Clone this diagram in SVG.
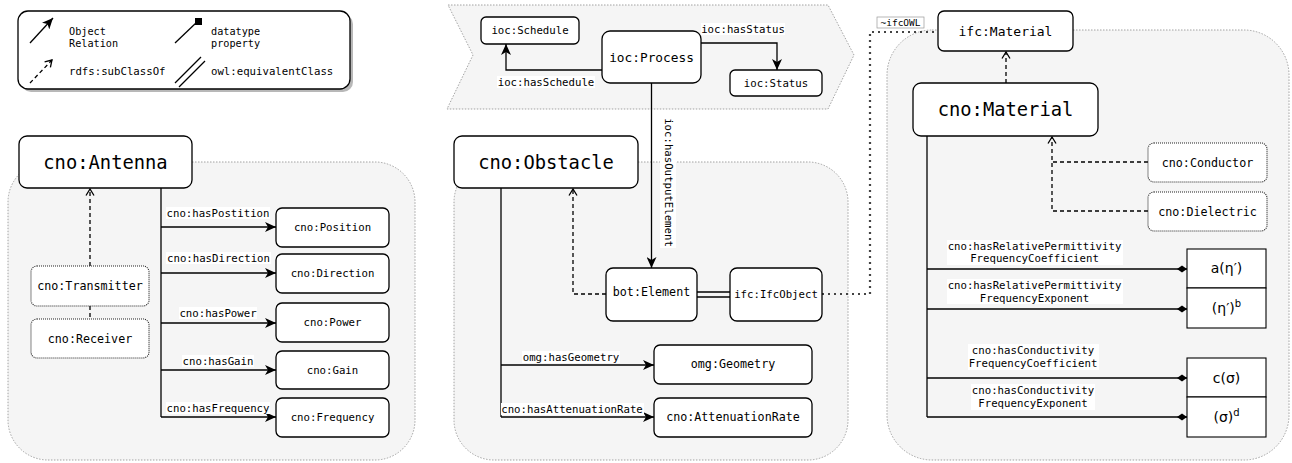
<svg xmlns="http://www.w3.org/2000/svg" width="1292" height="463" viewBox="0 0 1292 463">
<style>
text{font-family:"DejaVu Sans Mono","Liberation Mono",monospace;fill:#000}
.s{font-size:10.7px}
.m{font-size:11.7px}
.b{font-size:18.8px}
.leg{font-size:10.2px}
.c{text-anchor:middle;dominant-baseline:central}
.lbl{text-anchor:middle}
.node{fill:#fff;stroke:#000;stroke-width:1.3}
.dnode{fill:#fff;stroke:#222;stroke-width:1.1;stroke-dasharray:1 1}
.panel{fill:#f5f5f5;stroke:#999;stroke-width:0.9;stroke-dasharray:1.5 1.5}
.e{fill:none;stroke:#000;stroke-width:1.3}
.sub{fill:none;stroke:#000;stroke-width:1.3;stroke-dasharray:4 3}
.bg{fill:#fff}
.box{fill:#fff;stroke:#000;stroke-width:1.1}
.math{font-family:"DejaVu Sans","Liberation Sans",sans-serif;font-size:14px}
</style>
<defs>
<marker id="arr" markerUnits="userSpaceOnUse" markerWidth="11" markerHeight="10" refX="11" refY="5" orient="auto"><path d="M0,0 L11,5 L0,10 L3,5 z" fill="#000"/></marker>
<marker id="open" markerUnits="userSpaceOnUse" markerWidth="9" markerHeight="10" refX="7.5" refY="5" orient="auto"><path d="M1,1 L7.5,5 L1,9" fill="none" stroke="#000" stroke-width="1.3"/></marker>
<marker id="dia" markerUnits="userSpaceOnUse" markerWidth="10" markerHeight="8" refX="10" refY="4" orient="auto"><path d="M0,4 L5,0.5 L10,4 L5,7.5 z" fill="#000"/></marker>
</defs>

<g id="legend">
<rect x="21" y="14" width="332" height="78" rx="10" fill="#888" opacity="0.6"/>
<rect x="18" y="11" width="332" height="78" rx="10" fill="#fff" stroke="#000" stroke-width="1.3"/>
<line x1="30" y1="43" x2="53" y2="18" class="e" marker-end="url(#arr)"/>
<text class="leg" x="69" y="34.5">Object</text>
<text class="leg" x="69" y="46.5">Relation</text>
<line x1="175" y1="43" x2="197" y2="22" class="e"/>
<rect x="195" y="18" width="7" height="7" fill="#000"/>
<text class="leg" x="211" y="34.5">datatype</text>
<text class="leg" x="211" y="46.5">property</text>
<line x1="30" y1="83" x2="52" y2="60" class="sub" marker-end="url(#open)"/>
<text class="s" x="69" y="75">rdfs:subClassOf</text>
<line x1="175" y1="83" x2="201" y2="57" class="e"/>
<line x1="179" y1="87" x2="205" y2="61" class="e"/>
<text class="s" x="211" y="75">owl:equivalentClass</text>
</g>

<g id="panels">
<rect id="panel-antenna" class="panel" x="8" y="162" width="407" height="298" rx="40"/>
<rect id="panel-obstacle" class="panel" x="454" y="162" width="394" height="298" rx="40"/>
<rect id="panel-material" class="panel" x="887" y="30" width="402" height="430" rx="45"/>
<polygon id="panel-process" class="panel" points="448,5 828,5 854,55 828,109 447,109 473,55"/>
</g>

<g id="connectors">
<path class="sub" d="M90,266 V189" marker-end="url(#open)"/>
<path class="sub" d="M90,306 V319"/>
<path class="e" d="M161,188 V417"/>
<path class="e" d="M161,227 H276" marker-end="url(#arr)"/>
<path class="e" d="M161,273 H276" marker-end="url(#arr)"/>
<path class="e" d="M161,323 H276" marker-end="url(#arr)"/>
<path class="e" d="M161,370 H276" marker-end="url(#arr)"/>
<path class="e" d="M161,417 H276" marker-end="url(#arr)"/>
<path class="e" d="M602,70 H506 V44" marker-end="url(#arr)"/>
<path class="e" d="M701,43 H777 V70" marker-end="url(#arr)"/>
<path class="e" d="M651.5,83 V268" marker-end="url(#arr)"/>
<path class="sub" d="M606,294 H573 V189" marker-end="url(#open)"/>
<path class="e" d="M501,188 V417"/>
<path class="e" d="M501,365 H654" marker-end="url(#arr)"/>
<path class="e" d="M501,417 H654" marker-end="url(#arr)"/>
<line class="e" x1="697" y1="292" x2="730" y2="292"/>
<line class="e" x1="697" y1="297" x2="730" y2="297"/>
<path d="M822,294 H870 V32 H938" fill="none" stroke="#444" stroke-width="2.2" stroke-dasharray="2 4"/>
<path class="sub" d="M1006,83 V52" marker-end="url(#open)"/>
<path class="sub" d="M1148,162 H1052"/>
<path class="sub" d="M1148,211 H1052 V137" marker-end="url(#open)"/>
<path class="e" d="M927,136 V417"/>
<path class="e" d="M927,269 H1187" marker-end="url(#dia)"/>
<path class="e" d="M927,309 H1187" marker-end="url(#dia)"/>
<path class="e" d="M927,378 H1187" marker-end="url(#dia)"/>
<path class="e" d="M927,417 H1187" marker-end="url(#dia)"/>

<rect class="bg" x="166" y="207" width="104" height="12"/>
<text class="s lbl" x="218" y="217">cno:hasPostition</text>
<rect class="bg" x="166" y="252" width="105" height="12"/>
<text class="s lbl" x="218.5" y="262">cno:hasDirection</text>
<rect class="bg" x="179" y="307" width="78" height="12"/>
<text class="s lbl" x="218" y="317">cno:hasPower</text>
<rect class="bg" x="182" y="355" width="72" height="12"/>
<text class="s lbl" x="218" y="365">cno:hasGain</text>
<rect class="bg" x="166" y="402" width="104" height="12"/>
<text class="s lbl" x="218" y="412">cno:hasFrequency</text>

<rect class="bg" x="497" y="76" width="98" height="12"/>
<text class="s lbl" x="546" y="86">ioc:hasSchedule</text>
<rect class="bg" x="701" y="23" width="84" height="12"/>
<text class="s lbl" x="743" y="33">ioc:hasStatus</text>
<rect class="bg" x="660" y="117" width="16" height="131"/>
<text class="s" x="668" y="182.5" text-anchor="middle" dominant-baseline="central" transform="rotate(90 668 182.5)">ioc:hasOutputElement</text>

<rect class="bg" x="522" y="351" width="98" height="12"/>
<text class="s lbl" x="571" y="361">omg:hasGeometry</text>
<rect class="bg" x="501" y="403" width="143" height="12"/>
<text class="s lbl" x="572" y="413">cno:hasAttenuationRate</text>

<rect x="877" y="17" width="47" height="11" fill="#fff" stroke="#999" stroke-width="0.7"/>
<text x="900.5" y="26" text-anchor="middle" style="font-size:9.5px">~ifcOWL</text>

<rect class="bg" x="947" y="240" width="176" height="25"/>
<text class="s lbl" x="1034.5" y="250">cno:hasRelativePermittivity</text>
<text class="s lbl" x="1034.5" y="262">FrequencyCoefficient</text>
<rect class="bg" x="947" y="279" width="176" height="25"/>
<text class="s lbl" x="1034.5" y="289">cno:hasRelativePermittivity</text>
<text class="s lbl" x="1034.5" y="302">FrequencyExponent</text>
<rect class="bg" x="968" y="344" width="131" height="26"/>
<text class="s lbl" x="1033" y="354">cno:hasConductivity</text>
<text class="s lbl" x="1033" y="367">FrequencyCoefficient</text>
<rect class="bg" x="971" y="384" width="124" height="26"/>
<text class="s lbl" x="1033" y="394">cno:hasConductivity</text>
<text class="s lbl" x="1033" y="407">FrequencyExponent</text>
</g>

<g id="antenna"><rect class="node" x="19" y="136" width="173" height="52" rx="8"/><text class="b c" x="105.5" y="162">cno:Antenna</text></g>
<g id="transmitter"><rect class="dnode" x="31" y="266" width="118" height="40" rx="6"/><text class="m c" x="90" y="286">cno:Transmitter</text></g>
<g id="receiver"><rect class="dnode" x="31" y="319" width="118" height="39" rx="6"/><text class="m c" x="90" y="338.5">cno:Receiver</text></g>
<g id="position"><rect class="node" x="276" y="208" width="113" height="39" rx="6"/><text class="s c" x="332.5" y="227.5">cno:Position</text></g>
<g id="direction"><rect class="node" x="276" y="254" width="113" height="39" rx="6"/><text class="s c" x="332.5" y="273.5">cno:Direction</text></g>
<g id="power"><rect class="node" x="276" y="303" width="113" height="39" rx="6"/><text class="s c" x="332.5" y="322.5">cno:Power</text></g>
<g id="gain"><rect class="node" x="276" y="351" width="113" height="38" rx="6"/><text class="s c" x="332.5" y="370">cno:Gain</text></g>
<g id="frequency"><rect class="node" x="276" y="398" width="113" height="39" rx="6"/><text class="s c" x="332.5" y="417.5">cno:Frequency</text></g>

<g id="schedule"><rect class="node" x="481" y="17" width="98" height="27" rx="5"/><text class="s c" x="530" y="30.5">ioc:Schedule</text></g>
<g id="process"><rect class="node" x="602" y="31" width="99" height="52" rx="8"/><text class="c" style="font-size:12.8px" x="651.5" y="57">ioc:Process</text></g>
<g id="status"><rect class="node" x="730" y="70" width="92" height="26" rx="5"/><text class="s c" x="776" y="83">ioc:Status</text></g>

<g id="obstacle"><rect class="node" x="454" y="136" width="184" height="52" rx="8"/><text class="b c" x="546" y="162">cno:Obstacle</text></g>
<g id="element"><rect class="node" x="606" y="268" width="91" height="53" rx="7"/><text class="m c" x="651.5" y="292">bot:Element</text></g>
<g id="ifcobject"><rect class="node" x="730" y="268" width="92" height="53" rx="7"/><text class="s c" x="776" y="294">ifc:IfcObject</text></g>
<g id="geometry"><rect class="node" x="654" y="345" width="158" height="39" rx="6"/><text class="m c" x="733" y="364">omg:Geometry</text></g>
<g id="attenuation"><rect class="node" x="654" y="398" width="158" height="39" rx="6"/><text class="m c" x="733" y="417">cno:AttenuationRate</text></g>

<g id="ifcmaterial"><rect class="node" x="938" y="11" width="135" height="40" rx="6"/><text class="c" style="font-size:13px" x="1005.5" y="31">ifc:Material</text></g>
<g id="cnomaterial"><rect class="node" x="913" y="83" width="185" height="53" rx="8"/><text class="b c" x="1005.5" y="109.5">cno:Material</text></g>
<g id="conductor"><rect class="dnode" x="1148" y="143" width="119" height="39" rx="6"/><text class="m c" x="1207.5" y="162.5">cno:Conductor</text></g>
<g id="dielectric"><rect class="dnode" x="1148" y="192" width="119" height="39" rx="6"/><text class="m c" x="1207.5" y="211.5">cno:Dielectric</text></g>

<g id="coefA"><rect class="box" x="1187" y="249" width="79" height="39"/><text class="math c" x="1226.5" y="268">a(η′)</text></g>
<g id="expB"><rect class="box" x="1187" y="288" width="79" height="40"/><text class="math c" x="1226.5" y="308">(η′)<tspan dy="-5" style="font-size:10px">b</tspan></text></g>
<g id="coefC"><rect class="box" x="1187" y="358" width="79" height="39"/><text class="math c" x="1226.5" y="377.5">c(σ)</text></g>
<g id="expD"><rect class="box" x="1187" y="397" width="79" height="40"/><text class="math c" x="1226.5" y="417">(σ)<tspan dy="-5" style="font-size:10px">d</tspan></text></g>
</svg>
